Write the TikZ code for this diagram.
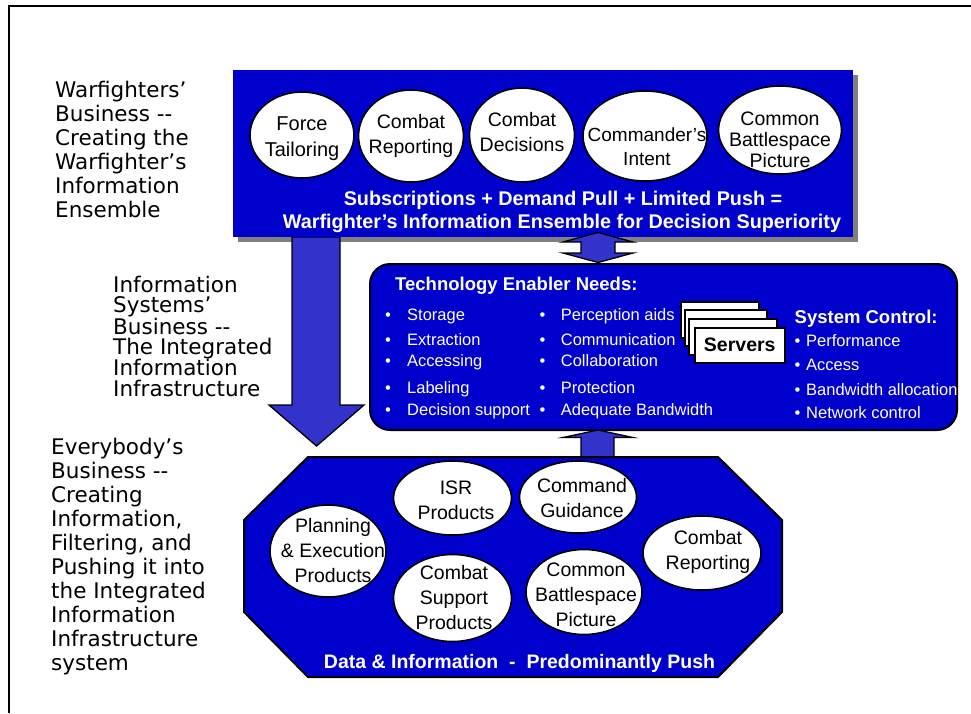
\documentclass[tikz,border=0pt]{standalone}
\usepackage{fontspec}
\setmainfont{Liberation Sans}
\newfontfamily\verd{DejaVu Sans}
\usetikzlibrary{shapes.geometric}
\definecolor{boxblue}{RGB}{0,0,204}
\definecolor{arrblue}{RGB}{51,51,204}
\definecolor{shadowgray}{RGB}{128,128,128}
\tikzset{
  oval/.style={ellipse, draw=black, line width=1.6pt, fill=white, inner sep=0pt},
  ovaltext/.style={align=center, font=\fontsize{19.5}{25}\selectfont, text=black, inner sep=0pt},
  headtext/.style={font=\bfseries\fontsize{19.8}{23}\selectfont, text=white, inner sep=0pt},
  itemtext/.style={anchor=base west, font=\fontsize{16.5}{20}\selectfont, text=white, inner sep=0pt},
  sidetext/.style={anchor=base west, font=\verd\fontsize{21.5}{24}\selectfont, align=left, inner sep=0pt},
  blockarrow/.style={fill=arrblue, draw=black, line width=1.3pt, line join=miter},
  srv/.style={draw=black, fill=white, line width=1.5pt, anchor=north west, inner sep=0pt},
}
\begin{document}
\begin{tikzpicture}[x=1pt,y=-1pt]
\useasboundingbox (0,0) rectangle (971,713);
% frame
\draw[line width=1.8pt] (9,713) -- (9,6) -- (971,6);

% left texts (base anchor = baseline of the last line)
\node[sidetext, font=\verd\fontsize{21.5}{23.9}\selectfont] (lab1) at (55,217) {Warfighters’\\Business -{}-\\Creating the\\Warfighter’s\\Information\\Ensemble};
\node[sidetext, font=\verd\fontsize{21.5}{20.1}\selectfont] (lab2) at (113,396) {Information\\Systems’\\Business -{}-\\The Integrated\\Information\\Infrastructure};
\node[sidetext] (lab3) at (51,670) {Everybody’s\\Business -{}-\\Creating\\Information,\\Filtering,  and\\Pushing it into\\the Integrated\\Information\\Infrastructure\\system};

% top box shadow
\fill[shadowgray] (238,75) rectangle (858,242);
% big down arrow
\draw[blockarrow] (292,237) -- (340,237) -- (340,405) -- (364,405) -- (316.5,446) -- (269,405) -- (292,405) -- cycle;
% top box
\node[fill=boxblue, anchor=north west, minimum width=620pt, minimum height=167pt, inner sep=0pt] (topbox) at (233,70) {};

% top circles
\node[oval, minimum width=104pt, minimum height=86pt] (tc1) at (302,135) {};
\node[ovaltext, font=\fontsize{20}{26}\selectfont] (tt1) at (302,139) {Force\\Tailoring};
\node[oval, minimum width=105pt, minimum height=92pt] (tc2) at (411,136) {};
\node[ovaltext] (tt2) at (411,135.5) {Combat\\Reporting};
\node[oval, minimum width=105pt, minimum height=94pt] (tc3) at (522,135) {};
\node[ovaltext] (tt3) at (522,132) {Combat\\Decisions};
\node[oval, minimum width=124pt, minimum height=90pt] (tc4) at (645,136) {};
\node[ovaltext, font=\fontsize{19}{24}\selectfont] (tt4) at (647,147) {Commander’s\\Intent};
\node[oval, minimum width=123pt, minimum height=88pt] (tc5) at (780,130) {};
\node[ovaltext, font=\fontsize{19.5}{21}\selectfont] (tt5) at (780,140) {Common\\Battlespace\\Picture};

\node[headtext, anchor=base] (sub1) at (563,205) {Subscriptions + Demand Pull + Limited Push =};
\node[headtext, anchor=base] (sub2) at (562,228.5) {Warfighter’s Information Ensemble for Decision Superiority};

% double arrow
\draw[blockarrow] (598,232.5) -- (633,242) -- (615,242) -- (615,253) -- (633,253) -- (598,262.5) -- (563,253) -- (581,253) -- (581,242) -- (563,242) -- cycle;

% middle box
\node[draw=black, line width=2pt, fill=boxblue, rounded corners=20pt, anchor=north west, minimum width=587pt, minimum height=166pt, inner sep=0pt] (mid) at (369,263) {};

% up arrow
\draw[blockarrow] (598,430) -- (633,437.5) -- (614,437.5) -- (614,458) -- (581,458) -- (581,437.5) -- (563,437.5) -- cycle;

\node[headtext, anchor=base west, font=\bfseries\fontsize{18.5}{22}\selectfont] (ten) at (395,290) {Technology Enabler Needs:};
\node[headtext, anchor=base west, font=\bfseries\fontsize{18.5}{22}\selectfont] (sys) at (794.5,323) {System Control:};

\node[itemtext] (a1) at (385,320.7) {\makebox[22pt][l]{\textbullet}Storage};
\node[itemtext] (a2) at (385,345) {\makebox[22pt][l]{\textbullet}Extraction};
\node[itemtext] (a3) at (385,366.7) {\makebox[22pt][l]{\textbullet}Accessing};
\node[itemtext] (a4) at (385,393.3) {\makebox[22pt][l]{\textbullet}Labeling};
\node[itemtext] (a5) at (385,415) {\makebox[22pt][l]{\textbullet}Decision support};

\node[itemtext] (b1) at (539.5,320.7) {\makebox[21.2pt][l]{\textbullet}Perception aids};
\node[itemtext] (b2) at (539.5,345) {\makebox[21.2pt][l]{\textbullet}Communication};
\node[itemtext] (b3) at (539.5,366.7) {\makebox[21.2pt][l]{\textbullet}Collaboration};
\node[itemtext] (b4) at (539.5,393.3) {\makebox[21.2pt][l]{\textbullet}Protection};
\node[itemtext] (b5) at (539.5,415) {\makebox[21.2pt][l]{\textbullet}Adequate Bandwidth};

\node[itemtext] (s1) at (794.3,346.7) {\makebox[11.7pt][l]{\textbullet}Performance};
\node[itemtext] (s2) at (794.3,370) {\makebox[11.7pt][l]{\textbullet}Access};
\node[itemtext] (s3) at (794.3,395) {\makebox[11.7pt][l]{\textbullet}Bandwidth allocation};
\node[itemtext] (s4) at (794.3,418.3) {\makebox[11.7pt][l]{\textbullet}Network control};

% servers stack
\node[srv, minimum width=78pt, minimum height=36pt] (sv1) at (680,301) {};
\node[srv, minimum width=82pt, minimum height=36pt] (sv2) at (684,309) {};
\node[srv, minimum width=88pt, minimum height=36pt] (sv3) at (688,318) {};
\node[srv, minimum width=90pt, minimum height=35pt, font=\bfseries\fontsize{19.5}{22}\selectfont] (sv4) at (694,327) {Servers};

% bottom octagon
\draw[fill=boxblue, line width=2pt, line join=miter] (308,457) -- (718,457) -- (782,520) -- (782,612) -- (718,677) -- (308,677) -- (244,612) -- (244,520) -- cycle;

\node[oval, minimum width=118pt, minimum height=74pt] (bc1) at (452.5,498) {};
\node[ovaltext] (bt1) at (456,500) {ISR\\Products};
\node[oval, minimum width=117pt, minimum height=72pt] (bc2) at (578,497) {};
\node[ovaltext] (bt2) at (582,498) {Command\\Guidance};
\node[oval, minimum width=116pt, minimum height=92pt] (bc3) at (328,551) {};
\node[ovaltext] (bt3) at (333,551) {Planning\\\& Execution\\Products};
\node[oval, minimum width=118pt, minimum height=87pt] (bc4) at (452.5,598) {};
\node[ovaltext] (bt4) at (454,597.5) {Combat\\Support\\Products};
\node[oval, minimum width=116pt, minimum height=85pt] (bc5) at (584,592) {};
\node[ovaltext] (bt5) at (586,594.5) {Common\\Battlespace\\Picture};
\node[oval, minimum width=118pt, minimum height=74pt] (bc6) at (702,553) {};
\node[ovaltext] (bt6) at (708,552) {Combat\\Reporting};

\node[headtext, anchor=base, font=\bfseries\fontsize{19.5}{23}\selectfont] (data) at (519.5,668) {Data \& Information\ \ -\ \ Predominantly Push};
\end{tikzpicture}
\end{document}
